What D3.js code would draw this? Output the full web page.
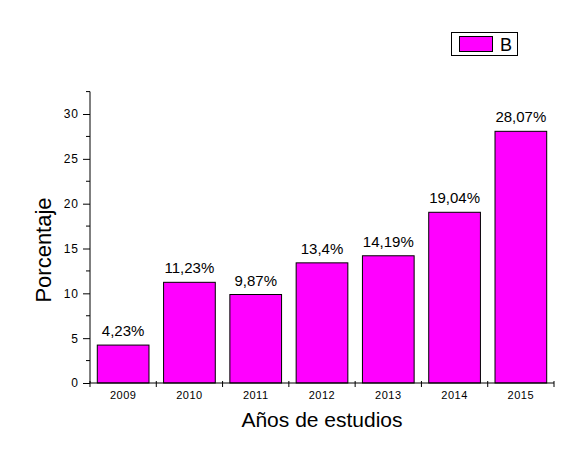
<!DOCTYPE html>
<html>
<head>
<meta charset="utf-8">
<script src="https://cdn.jsdelivr.net/npm/d3@7"></script>
<style>
  body { margin: 0; background: #fff; }
  text { font-family: Arial, "Liberation Sans", sans-serif; fill: #000; }
</style>
</head>
<body>
<div id="chart"></div>
<script>
// chart size
var width = 586;
var height = 468;

// data
var years = ["2009", "2010", "2011", "2012", "2013", "2014", "2015"];
var values = [4.23, 11.23, 9.87, 13.4, 14.19, 19.04, 28.07];
var valueLabels = ["4,23%", "11,23%", "9,87%", "13,4%", "14,19%", "19,04%", "28,07%"];
var yTicks = [0, 5, 10, 15, 20, 25, 30];
var yMinorTicks = [2.5, 7.5, 12.5, 17.5, 22.5, 27.5, 32.5];
var seriesName = "B";

var plot = { left: 90, right: 554, top: 91.6, bottom: 383 };

var svg = d3.select('#chart')
  .append('svg')
  .attr('width', width)
  .attr('height', height);

var x = d3.scaleBand()
  .domain(years)
  .range([plot.left, plot.right])
  .paddingInner(0.22)
  .paddingOuter(0.11);

var y = d3.scaleLinear()
  .domain([0, 32.5])
  .range([plot.bottom, plot.top]);

// bars
svg.selectAll('rect.bar')
  .data(values)
  .enter()
  .append('rect')
  .attr('class', 'bar')
  .attr('x', (d, i) => x(years[i]))
  .attr('y', (d) => y(d))
  .attr('width', x.bandwidth())
  .attr('height', (d) => y(0) - y(d))
  .attr('fill', '#ff00ff')
  .attr('stroke', '#000')
  .attr('stroke-width', 1);

// value labels
svg.selectAll('text.val')
  .data(values)
  .enter()
  .append('text')
  .attr('class', 'val')
  .attr('x', (d, i) => x(years[i]) + x.bandwidth() / 2)
  .attr('y', (d) => y(d) - 9)
  .attr('text-anchor', 'middle')
  .attr('font-size', 15)
  .text((d, i) => valueLabels[i]);

// y axis
var yAxis = svg.append('g')
  .attr('transform', 'translate(' + plot.left + ',0)')
  .call(d3.axisLeft(y).tickValues(yTicks).tickSize(7).tickPadding(4));
yAxis.select('.domain').attr('d', 'M0,' + y(0) + 'V' + y(32.5));
yAxis.selectAll('text')
  .attr('font-size', 12)
  .attr('letter-spacing', 1)
  .style('font-family', 'Arial, "Liberation Sans", sans-serif');

yAxis.selectAll('line.minor')
  .data(yMinorTicks)
  .enter()
  .append('line')
  .attr('class', 'minor')
  .attr('x1', -4)
  .attr('x2', 0)
  .attr('y1', (d) => y(d))
  .attr('y2', (d) => y(d))
  .attr('stroke', '#000');

// x axis
var step = x.step();
var bounds = years.map((d) => x(d) - step * x.paddingInner() / 2);
bounds.push(plot.right);

var xAxis = svg.append('g')
  .attr('transform', 'translate(0,' + plot.bottom + ')');
xAxis.append('line')
  .attr('x1', plot.left)
  .attr('x2', plot.right)
  .attr('stroke', '#000');
xAxis.selectAll('line.tick')
  .data(bounds)
  .enter()
  .append('line')
  .attr('class', 'tick')
  .attr('x1', (d) => d)
  .attr('x2', (d) => d)
  .attr('y1', -2)
  .attr('y2', 4)
  .attr('stroke', '#000');
xAxis.selectAll('text')
  .data(years)
  .enter()
  .append('text')
  .attr('x', (d) => x(d) + x.bandwidth() / 2)
  .attr('y', 16)
  .attr('text-anchor', 'middle')
  .attr('font-size', 11)
  .attr('letter-spacing', 0.5)
  .text((d) => d);

// axis titles
svg.append('text')
  .attr('x', (plot.left + plot.right) / 2)
  .attr('y', 427)
  .attr('text-anchor', 'middle')
  .attr('font-size', 21)
  .text('Años de estudios');

svg.append('text')
  .attr('transform', 'translate(51,250) rotate(-90)')
  .attr('text-anchor', 'middle')
  .attr('font-size', 22)
  .text('Porcentaje');

// legend
var legend = svg.append('g');
legend.append('rect')
  .attr('x', 451.5)
  .attr('y', 32.5)
  .attr('width', 66)
  .attr('height', 23)
  .attr('fill', '#fff')
  .attr('stroke', '#000');
legend.append('rect')
  .attr('x', 459.5)
  .attr('y', 36.5)
  .attr('width', 33)
  .attr('height', 15)
  .attr('fill', '#ff00ff')
  .attr('stroke', '#000');
legend.append('text')
  .attr('x', 500)
  .attr('y', 51)
  .attr('font-size', 18)
  .text(seriesName);
</script>
</body>
</html>
